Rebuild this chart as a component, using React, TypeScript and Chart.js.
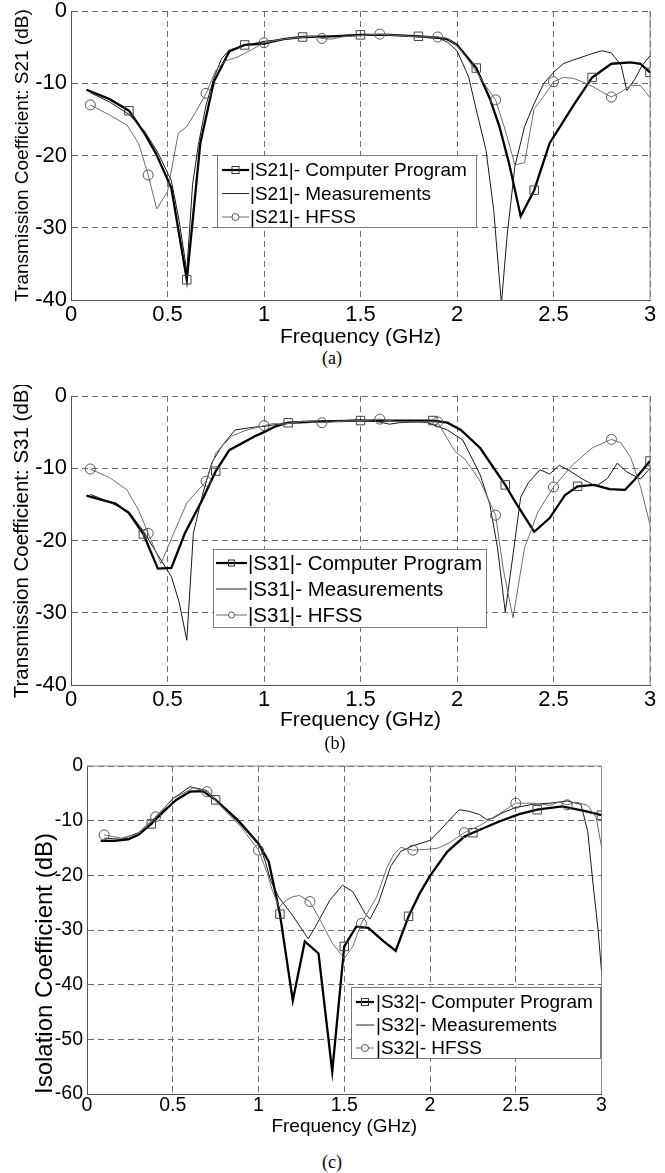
import React, { useEffect, useRef } from 'react';
import { Chart, registerables } from 'chart.js';

Chart.register(...registerables);

// ---------------- data ----------------
const FREQ_TICKS = [0, 0.5, 1, 1.5, 2, 2.5, 3];
const TRANS_TICKS = [-40, -30, -20, -10, 0];
const ISO_TICKS = [-60, -50, -40, -30, -20, -10, 0];

const X_TITLE = 'Frequency (GHz)';
const Y_TITLE_A = 'Transmission Coefficient: S21 (dB)';
const Y_TITLE_B = 'Transmission Coefficient: S31 (dB)';
const Y_TITLE_C = 'Isolation Coefficient (dB)';

const LABELS_A = ['|S21|- Computer Program', '|S21|- Measurements', '|S21|- HFSS'];
const LABELS_B = ['|S31|- Computer Program', '|S31|- Measurements', '|S31|- HFSS'];
const LABELS_C = ['|S32|- Computer Program', '|S32|- Measurements', '|S32|- HFSS'];

const CAPTIONS = ['(a)', '(b)', '(c)'];

// (a) S21
const progA_f = [0.08, 0.2, 0.3, 0.38, 0.44, 0.52, 0.6, 0.67, 0.74, 0.82, 0.9, 1.0, 1.1, 1.2, 1.35, 1.5, 1.65, 1.8, 1.9, 1.95, 2.0, 2.1, 2.17, 2.22, 2.27, 2.33, 2.4, 2.48, 2.6, 2.7, 2.8, 2.9, 2.95, 3.0];
const progA_db = [-10.9, -12.2, -13.8, -16.9, -19.7, -24.5, -37.2, -18.3, -9.8, -5.6, -4.7, -4.5, -3.9, -3.6, -3.5, -3.3, -3.3, -3.5, -3.7, -3.9, -4.7, -7.9, -12.1, -16.0, -21.1, -28.4, -24.8, -18.3, -13.2, -9.2, -7.3, -7.1, -7.3, -8.5];
const progA_marks = [0.3, 0.6, 0.9, 1.2, 1.5, 1.8, 2.1, 2.4, 2.7, 3.0];

const measA_f = [0.1, 0.2, 0.3, 0.38, 0.45, 0.52, 0.56, 0.6, 0.63, 0.66, 0.7, 0.74, 0.78, 0.82, 0.9, 1.0, 1.1, 1.2, 1.3, 1.4, 1.5, 1.6, 1.7, 1.8, 1.9, 1.95, 2.0, 2.06, 2.1, 2.15, 2.19, 2.23, 2.26, 2.3, 2.35, 2.4, 2.45, 2.5, 2.55, 2.6, 2.7, 2.75, 2.8, 2.85, 2.88, 2.92, 2.96, 3.0];
const measA_db = [-11.3, -12.6, -14.3, -16.6, -19.6, -23.5, -29.0, -36.0, -24.0, -18.5, -13.0, -9.3, -6.6, -5.4, -4.8, -4.2, -3.9, -3.6, -3.5, -3.4, -3.3, -3.3, -3.4, -3.5, -3.7, -4.3, -5.5, -9.1, -13.7, -19.2, -27.5, -40.5, -31.0, -21.5, -16.0, -12.8, -10.0, -8.5, -7.3, -6.8, -5.9, -5.5, -5.8, -7.5, -11.0, -9.5, -7.5, -6.2];

const hfssA_f = [0.1, 0.2, 0.29, 0.35, 0.4, 0.444, 0.5, 0.556, 0.6, 0.65, 0.7, 0.75, 0.8, 0.86, 0.94, 1.0, 1.1, 1.2, 1.25, 1.3, 1.35, 1.4, 1.5, 1.6, 1.7, 1.8, 1.9, 1.95, 2.0, 2.05, 2.1, 2.15, 2.2, 2.25, 2.3, 2.35, 2.4, 2.43, 2.47, 2.5, 2.55, 2.6, 2.65, 2.7, 2.75, 2.8, 2.85, 2.9, 2.95, 3.0];
const hfssA_db = [-13.0, -14.4, -15.8, -18.3, -22.7, -27.4, -25.0, -16.9, -16.0, -13.8, -11.4, -8.2, -6.9, -6.4, -5.3, -4.4, -3.9, -3.6, -3.5, -3.8, -3.9, -3.6, -3.4, -3.2, -3.4, -3.6, -3.6, -3.8, -4.8, -6.5, -8.4, -10.4, -12.3, -16.5, -21.3, -21.0, -13.5, -12.5, -11.0, -9.8, -9.2, -9.3, -9.8, -10.4, -11.2, -11.9, -11.2, -10.3, -10.3, -12.0];
const hfssA_marks = [0.1, 0.4, 0.7, 1.0, 1.3, 1.6, 1.9, 2.2, 2.5, 2.8];

// (b) S31
const progB_f = [0.08, 0.23, 0.3, 0.375, 0.45, 0.52, 0.59, 0.68, 0.75, 0.82, 0.95, 1.0, 1.06, 1.125, 1.3, 1.5, 1.7, 1.875, 1.95, 2.02, 2.12, 2.25, 2.3, 2.4, 2.48, 2.56, 2.625, 2.71, 2.79, 2.87, 2.92, 3.0];
const progB_db = [-13.8, -14.9, -16.2, -19.1, -23.9, -23.8, -19.0, -14.4, -10.4, -7.5, -5.6, -5.0, -4.2, -3.7, -3.5, -3.4, -3.4, -3.4, -3.7, -4.7, -7.2, -12.3, -14.6, -18.8, -16.9, -13.7, -12.5, -12.3, -12.9, -13.0, -11.6, -9.0];
const progB_marks = [0.375, 0.75, 1.125, 1.5, 1.875, 2.25, 2.625, 3.0];

const measB_f = [0.1, 0.2, 0.3, 0.375, 0.45, 0.52, 0.56, 0.6, 0.634, 0.68, 0.73, 0.78, 0.85, 0.95, 1.0, 1.1, 1.2, 1.3, 1.4, 1.5, 1.6, 1.65, 1.7, 1.8, 1.85, 1.9, 1.95, 2.03, 2.12, 2.17, 2.21, 2.25, 2.29, 2.33, 2.37, 2.43, 2.48, 2.53, 2.58, 2.65, 2.72, 2.78, 2.83, 2.88, 2.95, 3.0];
const measB_db = [-13.6, -14.7, -16.0, -18.7, -22.0, -25.0, -28.5, -33.8, -19.0, -13.8, -9.2, -7.0, -4.7, -4.3, -4.2, -3.8, -3.5, -3.5, -3.4, -3.3, -3.6, -3.9, -3.7, -3.6, -3.7, -4.2, -4.7, -6.1, -10.9, -15.0, -21.0, -29.9, -22.0, -14.0, -12.0, -10.2, -10.8, -9.6, -10.3, -11.5, -12.5, -11.4, -9.3, -10.5, -11.5, -10.0];

const hfssB_f = [0.1, 0.2, 0.29, 0.35, 0.4, 0.466, 0.54, 0.6, 0.7, 0.75, 0.83, 0.9, 1.0, 1.05, 1.1, 1.2, 1.3, 1.4, 1.5, 1.6, 1.7, 1.8, 1.9, 1.93, 1.99, 2.04, 2.12, 2.2, 2.24, 2.29, 2.35, 2.42, 2.5, 2.6, 2.7, 2.8, 2.85, 2.9, 2.95, 3.0];
const hfssB_db = [-10.1, -11.3, -13.0, -15.8, -19.0, -23.2, -18.5, -14.8, -11.8, -7.9, -5.6, -4.8, -4.1, -3.8, -3.9, -3.5, -3.7, -3.5, -3.4, -3.2, -3.6, -3.6, -3.6, -5.0, -7.7, -8.7, -11.8, -16.5, -24.0, -30.7, -21.0, -16.0, -12.6, -9.5, -7.2, -6.0, -6.5, -8.5, -12.5, -17.8];
const hfssB_marks = [0.1, 0.4, 0.7, 1.0, 1.3, 1.6, 1.9, 2.2, 2.5, 2.8];

// (c) S32
const progC_f = [0.08, 0.16, 0.24, 0.3, 0.375, 0.45, 0.52, 0.6, 0.675, 0.75, 0.88, 1.0, 1.06, 1.125, 1.2, 1.27, 1.35, 1.43, 1.5, 1.57, 1.64, 1.73, 1.8, 1.875, 1.94, 2.0, 2.1, 2.2, 2.25, 2.4, 2.52, 2.625, 2.77, 2.9, 3.0];
const progC_db = [-13.7, -13.7, -13.4, -12.6, -10.6, -8.2, -6.2, -4.7, -4.6, -6.2, -9.9, -14.2, -17.5, -27.1, -42.9, -32.1, -34.3, -55.9, -33.0, -29.4, -29.6, -32.1, -33.8, -27.5, -23.3, -20.1, -15.7, -12.9, -12.2, -10.2, -8.8, -8.0, -7.4, -8.2, -9.0];
const progC_marks = [0.375, 0.75, 1.125, 1.5, 1.875, 2.25, 2.625, 3.0];

const measC_f = [0.1, 0.2, 0.3, 0.4, 0.5, 0.6, 0.7, 0.8, 0.9, 1.0, 1.04, 1.07, 1.12, 1.2, 1.29, 1.33, 1.417, 1.49, 1.55, 1.62, 1.65, 1.7, 1.77, 1.83, 1.9, 2.0, 2.06, 2.11, 2.17, 2.23, 2.29, 2.33, 2.37, 2.42, 2.5, 2.6, 2.7, 2.8, 2.88, 2.92, 2.95, 2.98, 3.0];
const measC_db = [-13.2, -13.4, -12.2, -9.4, -6.0, -3.8, -4.5, -7.8, -10.9, -14.0, -17.5, -20.9, -24.1, -27.4, -31.6, -29.5, -24.5, -21.8, -23.0, -26.9, -28.0, -25.0, -18.4, -15.6, -14.6, -13.6, -11.7, -10.0, -8.0, -8.3, -8.9, -9.8, -9.5, -8.6, -7.6, -7.0, -6.8, -6.4, -7.0, -12.0, -21.4, -30.0, -37.5];

const hfssC_f = [0.1, 0.2, 0.3, 0.4, 0.5, 0.62, 0.7, 0.8, 0.9, 1.0, 1.05, 1.08, 1.12, 1.16, 1.2, 1.24, 1.3, 1.36, 1.43, 1.5, 1.55, 1.6, 1.69, 1.75, 1.79, 1.83, 1.9, 2.0, 2.05, 2.11, 2.2, 2.29, 2.4, 2.5, 2.6, 2.7, 2.75, 2.8, 2.85, 2.92, 2.97, 3.0];
const hfssC_db = [-12.6, -13.2, -12.4, -9.3, -6.0, -4.0, -4.7, -8.0, -11.2, -15.4, -19.5, -22.7, -25.8, -24.6, -23.9, -23.7, -24.8, -28.2, -32.4, -35.2, -33.0, -28.8, -23.9, -18.5, -16.1, -14.9, -15.4, -15.2, -15.0, -14.1, -12.2, -10.9, -8.8, -6.8, -6.8, -7.2, -6.6, -7.1, -6.6, -7.2, -9.5, -14.8];
const hfssC_marks = [0.1, 0.4, 0.7, 1.0, 1.3, 1.6, 1.9, 2.2, 2.5, 2.8];

// ---------------- rendering ----------------
const FONT = '"Liberation Sans", Arial, Helvetica, sans-serif';
const SERIF = '"Liberation Serif", "Times New Roman", serif';
const W = 665;

const toPoints = (f: number[], db: number[]) => f.map((x, i) => ({ x, y: db[i] }));
const markerRadius = (marks: number[], r: number) => (ctx: any) => {
  const p = ctx && ctx.raw;
  if (!p || typeof p.x !== 'number') return 0;
  return marks.some((m) => Math.abs(m - p.x) < 1e-6) ? r : 0;
};

function makeLegendPlugin(cfg: any) {
  const L = cfg.legend;
  return {
    id: 'panelLegend',
    afterDraw(chart: any) {
      const ctx = chart.ctx;
      ctx.save();
      ctx.fillStyle = '#ffffff';
      ctx.fillRect(L.x, L.y, L.w, L.h);
      ctx.strokeStyle = '#7a7a7a';
      ctx.lineWidth = 1;
      ctx.strokeRect(L.x + 0.5, L.y + 0.5, L.w - 1, L.h - 1);
      const mid = (L.x0 + L.x1) / 2;
      // row 1: computer program
      ctx.strokeStyle = '#000';
      ctx.lineWidth = 2.2;
      ctx.beginPath();
      ctx.moveTo(L.x0, L.rows[0]);
      ctx.lineTo(L.x1, L.rows[0]);
      ctx.stroke();
      ctx.lineWidth = 1;
      ctx.strokeStyle = '#333';
      ctx.strokeRect(mid - L.sq / 2, L.rows[0] - L.sq / 2, L.sq, L.sq);
      // row 2: measurements
      ctx.strokeStyle = '#222';
      ctx.lineWidth = 1;
      ctx.beginPath();
      ctx.moveTo(L.x0, L.rows[1]);
      ctx.lineTo(L.x1, L.rows[1]);
      ctx.stroke();
      // row 3: hfss
      ctx.strokeStyle = '#6e6e6e';
      ctx.beginPath();
      ctx.moveTo(L.x0, L.rows[2]);
      ctx.lineTo(L.x1, L.rows[2]);
      ctx.stroke();
      ctx.fillStyle = '#fff';
      ctx.beginPath();
      ctx.arc(mid, L.rows[2], L.cr, 0, Math.PI * 2);
      ctx.fill();
      ctx.strokeStyle = '#555';
      ctx.stroke();
      // texts
      ctx.fillStyle = '#000';
      ctx.font = `${L.fontSize}px ${FONT}`;
      ctx.textAlign = 'left';
      ctx.textBaseline = 'middle';
      cfg.labels.forEach((t: string, i: number) => ctx.fillText(t, L.tx, L.rows[i] + 1));
      ctx.restore();
    },
  };
}

function makeFramePlugin(cfg: any) {
  return {
    id: 'panelFrame',
    beforeDatasetsDraw(chart: any) {
      const { ctx, chartArea } = chart;
      ctx.save();
      ctx.strokeStyle = '#8a8a8a';
      ctx.lineWidth = 1;
      ctx.beginPath();
      ctx.moveTo(chartArea.right, chartArea.top);
      ctx.lineTo(chartArea.right, chartArea.bottom);
      if (cfg.solidTop) {
        ctx.moveTo(chartArea.left, chartArea.top);
        ctx.lineTo(chartArea.right, chartArea.top);
      }
      ctx.stroke();
      ctx.restore();
    },
  };
}

function buildConfig(cfg: any) {
  const gridOpts = { color: '#6e6e6e', lineWidth: 1, drawTicks: false };
  const borderOpts = { display: true, color: '#555', width: 1, dash: [6, 4] };
  return {
    type: 'line',
    data: {
      datasets: [
        {
          label: cfg.labels[2],
          data: toPoints(cfg.hfss.f, cfg.hfss.db),
          borderColor: '#6e6e6e',
          borderWidth: 1,
          pointStyle: 'circle',
          pointRadius: markerRadius(cfg.hfss.marks, 5),
          pointBorderColor: '#555',
          pointBackgroundColor: 'rgba(255,255,255,0)',
          pointBorderWidth: 1,
          tension: 0,
        },
        {
          label: cfg.labels[1],
          data: toPoints(cfg.meas.f, cfg.meas.db),
          borderColor: '#1a1a1a',
          borderWidth: 1,
          pointRadius: 0,
          tension: 0,
        },
        {
          label: cfg.labels[0],
          data: toPoints(cfg.prog.f, cfg.prog.db),
          borderColor: '#000',
          borderWidth: 2.3,
          pointStyle: 'rect',
          pointRadius: markerRadius(cfg.prog.marks, 6),
          pointBorderColor: '#444',
          pointBackgroundColor: 'rgba(255,255,255,0)',
          pointBorderWidth: 1,
          tension: 0,
        },
      ],
    },
    options: {
      responsive: false,
      animation: false,
      events: [],
      layout: { padding: { left: 0, right: W - cfg.area.right, top: cfg.area.top, bottom: 0 } },
      plugins: { legend: { display: false }, tooltip: { enabled: false } },
      scales: {
        x: {
          type: 'linear',
          min: 0,
          max: 3,
          afterBuildTicks: (s: any) => {
            s.ticks = FREQ_TICKS.map((v) => ({ value: v }));
          },
          afterFit: (s: any) => {
            s.height = cfg.height - cfg.area.bottom;
            s.paddingLeft = 0;
            s.paddingRight = 0;
          },
          grid: gridOpts,
          border: borderOpts,
          ticks: {
            color: '#000',
            font: { family: FONT, size: cfg.tickSize, lineHeight: 1.2 },
            padding: cfg.xTickPad,
            maxRotation: 0,
            minRotation: 0,
            autoSkip: false,
            callback: (v: any) => String(v),
          },
          title: {
            display: true,
            text: X_TITLE,
            color: '#000',
            font: { family: FONT, size: cfg.xTitleSize, lineHeight: cfg.xTitleLH },
            padding: 0,
          },
        },
        y: {
          type: 'linear',
          min: cfg.yTicks[0],
          max: 0,
          afterBuildTicks: (s: any) => {
            s.ticks = cfg.yTicks.map((v: number) => ({ value: v }));
          },
          afterFit: (s: any) => {
            s.width = cfg.area.left;
            s.paddingTop = 0;
            s.paddingBottom = 0;
          },
          grid: gridOpts,
          border: borderOpts,
          ticks: {
            color: '#000',
            font: { family: FONT, size: cfg.tickSize, lineHeight: 1.2 },
            padding: 4,
            autoSkip: false,
            callback: (v: any) => String(v),
          },
          title: {
            display: true,
            text: cfg.yTitle,
            color: '#000',
            align: cfg.yTitleAlign,
            font: { family: FONT, size: cfg.yTitleSize, lineHeight: cfg.yTitleLH },
            padding: { top: cfg.yTitlePad, bottom: 0 },
          },
        },
      },
    },
    plugins: [makeFramePlugin(cfg), makeLegendPlugin(cfg)],
  };
}

const PANELS: any[] = [
  {
    top: 0,
    height: 346,
    area: { left: 71, right: 650, top: 11, bottom: 300 },
    yTicks: TRANS_TICKS,
    yTitle: Y_TITLE_A,
    yTitleAlign: 'center',
    yTitleSize: 19,
    yTitleLH: '22px',
    yTitlePad: 12,
    tickSize: 22,
    xTickPad: 2,
    xTitleSize: 21,
    xTitleLH: '18px',
    labels: LABELS_A,
    prog: { f: progA_f, db: progA_db, marks: progA_marks },
    meas: { f: measA_f, db: measA_db },
    hfss: { f: hfssA_f, db: hfssA_db, marks: hfssA_marks },
    legend: { x: 217, y: 155, w: 260, h: 73, rows: [170, 193.5, 217], x0: 222, x1: 249, tx: 250, fontSize: 19, sq: 7, cr: 3.5 },
    solidTop: false,
    caption: { text: CAPTIONS[0], cx: 332, cy: 358 },
  },
  {
    top: 385,
    height: 345,
    area: { left: 71, right: 650, top: 11, bottom: 300 },
    yTicks: TRANS_TICKS,
    yTitle: Y_TITLE_B,
    yTitleAlign: 'center',
    yTitleSize: 20.5,
    yTitleLH: '24px',
    yTitlePad: 10,
    tickSize: 22,
    xTickPad: 2,
    xTitleSize: 21,
    xTitleLH: '19px',
    labels: LABELS_B,
    prog: { f: progB_f, db: progB_db, marks: progB_marks },
    meas: { f: measB_f, db: measB_db },
    hfss: { f: hfssB_f, db: hfssB_db, marks: hfssB_marks },
    legend: { x: 213, y: 164, w: 274, h: 79, rows: [178, 204, 230], x0: 216, x1: 247, tx: 248, fontSize: 20.5, sq: 6, cr: 3 },
    solidTop: false,
    caption: { text: CAPTIONS[1], cx: 335, cy: 743 },
  },
  {
    top: 750,
    height: 390,
    area: { left: 87, right: 601.5, top: 16, bottom: 344 },
    yTicks: ISO_TICKS,
    yTitle: Y_TITLE_C,
    yTitleAlign: 'start',
    yTitleSize: 24,
    yTitleLH: '28px',
    yTitlePad: 31,
    tickSize: 19.5,
    xTickPad: 0,
    xTitleSize: 19,
    xTitleLH: '26px',
    labels: LABELS_C,
    prog: { f: progC_f, db: progC_db, marks: progC_marks },
    meas: { f: measC_f, db: measC_db },
    hfss: { f: hfssC_f, db: hfssC_db, marks: hfssC_marks },
    legend: { x: 351, y: 237, w: 250, h: 72, rows: [252, 275, 298], x0: 356, x1: 374, tx: 376, fontSize: 19, sq: 7, cr: 3.5 },
    solidTop: true,
    caption: { text: CAPTIONS[2], cx: 332, cy: 1162 },
  },
];

function Panel({ cfg }: { cfg: any }) {
  const ref = useRef<HTMLCanvasElement | null>(null);
  useEffect(() => {
    const canvas = ref.current;
    if (!canvas) return;
    const chart = new Chart(canvas, buildConfig(cfg) as any);
    return () => chart.destroy();
  }, [cfg]);
  return (
    <canvas
      ref={ref}
      width={W}
      height={cfg.height}
      style={{ position: 'absolute', left: 0, top: cfg.top, width: W, height: cfg.height }}
    />
  );
}

export default function App() {
  return (
    <div style={{ position: 'absolute', left: 0, top: 0, width: W, height: 1173, background: '#fff', overflow: 'hidden' }}>
      {PANELS.map((p, i) => (
        <Panel key={i} cfg={p} />
      ))}
      {PANELS.map((p, i) => (
        <div
          key={'c' + i}
          style={{
            position: 'absolute',
            left: p.caption.cx - 40,
            width: 80,
            top: p.caption.cy - 11,
            height: 22,
            lineHeight: '22px',
            textAlign: 'center',
            fontFamily: SERIF,
            fontSize: 18,
            color: '#000',
          }}
        >
          {p.caption.text}
        </div>
      ))}
    </div>
  );
}
